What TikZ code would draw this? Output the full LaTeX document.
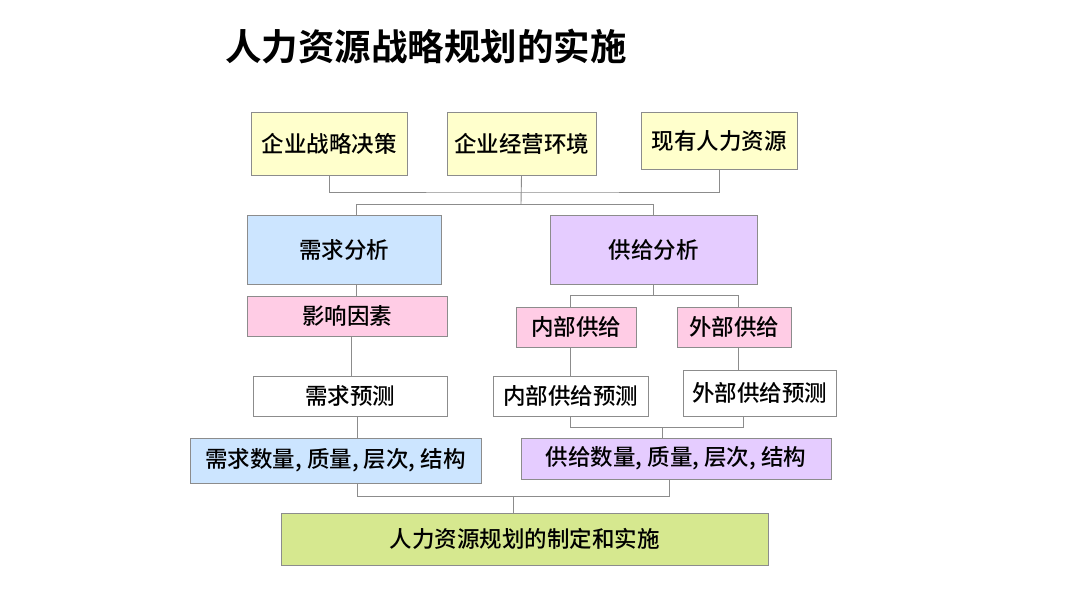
\documentclass[tikz,border=0pt]{standalone}
\usepackage{fontspec}
\setmainfont{Noto Sans CJK SC Medium}
\newfontfamily\titlefont{Noto Sans CJK SC Bold}
\definecolor{yel}{HTML}{FFFFCC}
\definecolor{blu}{HTML}{CCE5FF}
\definecolor{lav}{HTML}{E5CCFF}
\definecolor{pnk}{HTML}{FFCCE5}
\definecolor{grn}{HTML}{D6E88F}
\definecolor{edge}{HTML}{8C8C8C}
\tikzset{
  box/.style={draw=edge, line width=0.9pt, rectangle, inner sep=0pt, font=\fontsize{22.5}{25}\selectfont, text=black},
  conn/.style={draw=edge, line width=0.9pt}
}
\newcommand{\bx}[7]{% name, fill, x1,y1,x2,y2, text
  \node[box, fill=#2, minimum width={(#5-#3)*1pt}, minimum height={(#6-#4)*1pt}] (#1) at ({(#3+#5)/2},{(#4+#6)/2}) {#7};}
\begin{document}
\begin{tikzpicture}[x=1pt,y=-1pt]
\useasboundingbox[fill=white] (0,0) rectangle (1080,607);
\node[font=\titlefont\fontsize{36.5}{40}\selectfont, anchor=west, inner sep=0pt] (title) at (225,47) {人力资源战略规划的实施};
% top row
\bx{b1}{yel}{251}{112}{407}{175}{企业战略决策}
\bx{b2}{yel}{447}{112}{596}{175}{企业经营环境}
\bx{b3}{yel}{641}{112}{797}{169}{现有人力资源}
% analysis
\bx{dem}{blu}{247}{215}{441}{284}{需求分析}
\bx{sup}{lav}{550}{215}{757}{284}{供给分析}
% level 3
\bx{inf}{pnk}{247}{296}{447}{336}{影响因素}
\bx{ins}{pnk}{516}{307}{636}{347}{内部供给}
\bx{exs}{pnk}{677}{307}{791}{347}{外部供给}
% forecasts
\bx{dfc}{white}{253}{376}{447}{416}{需求预测}
\bx{ifc}{white}{493}{376}{648}{416}{内部供给预测}
\bx{efc}{white}{683}{370}{836}{416}{外部供给预测}
% results
\bx{dres}{blu}{190}{438}{481}{483}{需求数量, 质量, 层次, 结构}
\bx{sres}{lav}{521}{438}{831}{479}{供给数量, 质量, 层次, 结构}
% final
\bx{fin}{grn}{281}{513}{768}{565}{人力资源规划的制定和实施}
% coordinates
\coordinate (h1) at (521,192);
\coordinate (h2) at (521,204);
\coordinate (d1) at (356,204);
\coordinate (s1) at (653,295);
\coordinate (sl) at (570,295);
\coordinate (sr) at (738,295);
\coordinate (fl) at (570,427);
\coordinate (fr) at (743,427);
\coordinate (fm) at (662,427);
\coordinate (bl) at (357,496);
\coordinate (br) at (669,496);
\coordinate (bm) at (513,496);
% connectors top
\draw[conn] (b1.south) |- (h1) -| (b3.south);
\draw[conn] (b2.south) -- (h2);
\draw[conn] (d1 |- dem.north) |- (sup.north |- d1) -- (sup.north);
% demand column
\draw[conn] (d1 |- dem.south) -- (d1 |- inf.north);
\draw[conn] (351,0 |- inf.south) -- (351,0 |- dfc.north);
\draw[conn] (bl |- dfc.south) -- (bl |- dres.north);
% supply column
\draw[conn] (sup.south) -- (sup.south |- s1);
\draw[conn] (sl |- ins.north) |- (sr) -- (sr |- exs.north);
\draw[conn] (sl |- ins.south) -- (sl |- ifc.north);
\draw[conn] (sr |- exs.south) -- (sr |- efc.north);
\draw[conn] (fl |- ifc.south) |- (fr) -- (fr |- efc.south);
\draw[conn] (fm) -- (fm |- sres.north);
% bottom
\draw[conn] (bl |- dres.south) |- (br) -- (br |- sres.south);
\draw[conn] (bm) -- (bm |- fin.north);
\end{tikzpicture}
\end{document}
